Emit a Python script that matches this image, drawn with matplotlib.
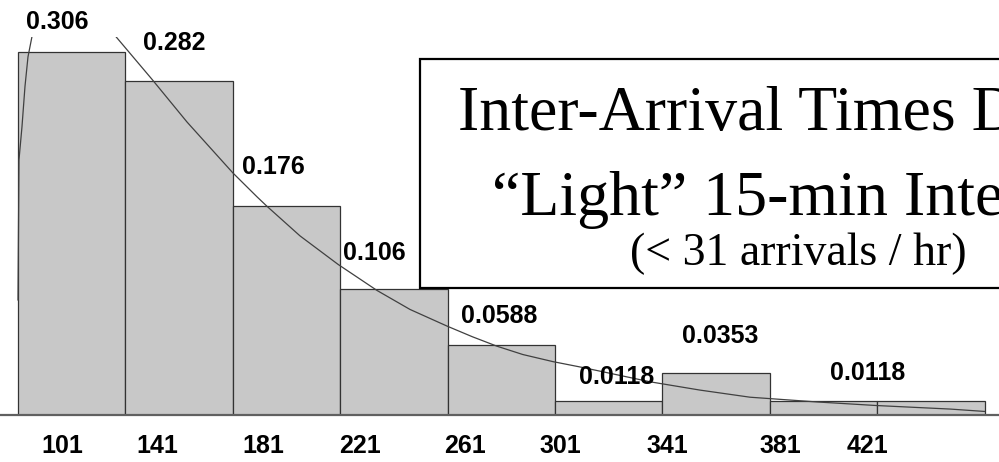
import numpy as np
import matplotlib
matplotlib.use('Agg')
import matplotlib.pyplot as plt
from matplotlib.patches import Rectangle

# histogram of inter-arrival times, relative frequency per bin
bin_labels = ['101', '141', '181', '221', '261', '301', '341', '381', '421']
rel_freq = [0.306, 0.282, 0.176, 0.106, 0.0588, 0.0118, 0.0353, 0.0118, 0.0118]
value_labels = ['0.306', '0.282', '0.176', '0.106', '0.0588', '0.0118', '0.0353', '0.0118']

# fitted density curve (x in bin units)
curve_x = [0.0, 0.009, 0.037, 0.065, 0.093, 0.13, 0.5, 0.912, 1.248, 1.574, 2.002,
           2.225, 2.318, 2.626, 2.98, 3.343, 3.65, 3.994, 4.23, 4.46, 4.70, 4.981,
           5.261, 5.885, 6.35, 6.816, 7.44, 7.99, 8.68, 9.0]
curve_y = [0.097, 0.215, 0.243, 0.277, 0.302, 0.319, 0.37, 0.319, 0.283, 0.247, 0.204,
           0.184, 0.176, 0.151, 0.127, 0.105, 0.089, 0.075, 0.066, 0.058, 0.051, 0.045,
           0.040, 0.028, 0.021, 0.015, 0.011, 0.008, 0.005, 0.003]

title_lines = ['Inter-Arrival Times Distribution', '\u201cLight\u201d 15-min Intervals']
subtitle = '(< 31 arrivals / hr)'

# layout: where the labels sit relative to each bar
label_dx = [-0.137, -0.047, -0.126, -0.185, -0.021, 0.077, 0.036, 0.414]
label_dy = [0.025, 0.032, 0.033, 0.031, 0.025, 0.020, 0.031, 0.024]
tick_pos = [0.41, 1.30, 2.28, 3.18, 4.16, 5.05, 6.05, 7.10, 7.91]

W, H = 999, 462
fig = plt.figure(figsize=(W / 100, H / 100), dpi=100)
ax = fig.add_axes([0, (H - 415) / H, 1, 415 / H])

x = np.arange(len(rel_freq))
ax.bar(x, rel_freq, width=1.0, align='edge', color='#c8c8c8',
       edgecolor='#333333', linewidth=0.9, zorder=2)

line, = ax.plot(curve_x, curve_y, color='#404040', lw=0.9, zorder=3)
clip = Rectangle((-1, 0), 12, 0.319, transform=ax.transData)
line.set_clip_path(clip)

for i, txt in enumerate(value_labels):
    ax.text(i + 0.5 + label_dx[i], rel_freq[i] + label_dy[i], txt,
            ha='center', va='center', fontsize=18, fontweight='bold',
            family='Liberation Sans', color='black', zorder=4)

ax.set_xlim(-18 / 107.4, (W - 18) / 107.4)
ax.set_ylim(0, 415 / 1186)
ax.set_xticks(tick_pos)
ax.set_xticklabels(bin_labels, fontsize=18, fontweight='bold', family='Liberation Sans')
ax.tick_params(axis='x', length=0, pad=14)
ax.set_yticks([])
for s in ['top', 'left', 'right']:
    ax.spines[s].set_visible(False)
ax.spines['bottom'].set_color('#606060')
ax.spines['bottom'].set_linewidth(1.6)
ax.spines['bottom'].set_zorder(5)

# title box, runs off the right edge like the original
box = Rectangle((420 / W, (H - 288) / H), 0.7, (288 - 59) / H, transform=fig.transFigure,
                facecolor='white', edgecolor='black', linewidth=1.6, zorder=10)
fig.patches.append(box)
fig.text(458 / W, (H - 130) / H, title_lines[0], ha='left', va='baseline',
         fontsize=46, family='Liberation Serif', zorder=11)
fig.text(492 / W, (H - 215) / H, title_lines[1], ha='left', va='baseline',
         fontsize=46, family='Liberation Serif', zorder=11)
fig.text(630 / W, (H - 265) / H, subtitle, ha='left', va='baseline',
         fontsize=33, family='Liberation Serif', zorder=11)

fig.savefig('out.png', dpi=100)
